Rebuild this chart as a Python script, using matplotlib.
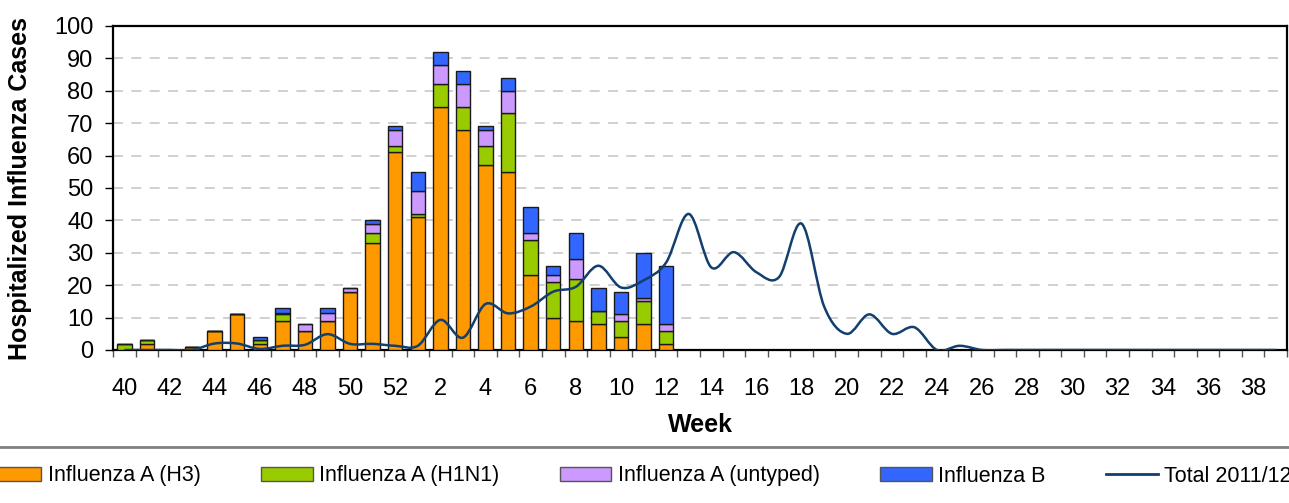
import numpy as np
import matplotlib.pyplot as plt
from matplotlib.path import Path
from matplotlib.patches import PathPatch, Patch
from matplotlib.lines import Line2D

plt.rcParams['font.family'] = ['Liberation Sans', 'DejaVu Sans']

# Weeks 40-52 of 2011, then 1-39 of 2012
weeks = list(range(40, 53)) + list(range(1, 40))

# Bars only for weeks 40 .. 12 (season so far)
h3 = [0, 2, 0, 1, 6, 11, 2, 9, 6, 9, 18, 33, 61, 41, 75, 68, 57, 55, 23, 10, 9, 8, 4, 8, 2]
h1n1 = [2, 1, 0, 0, 0, 0, 1, 2, 0, 0, 0, 3, 2, 1, 7, 7, 6, 18, 11, 11, 13, 4, 5, 7, 4]
untyped = [0, 0, 0, 0, 0, 0, 0, 0.5, 2, 2.5, 1, 3, 5, 7, 6, 7, 5, 7, 2, 2, 6, 0, 2, 1, 2]
flu_b = [0, 0, 0, 0, 0, 0, 1, 1.5, 0, 1.5, 0, 1, 1, 6, 4, 4, 1, 4, 8, 3, 8, 7, 7, 14, 18]

# previous season total, all 52 weeks
total_prev = [0, 0, 0, 0, 2, 2, 0.3, 1.3, 1.6, 4.9, 1.9, 1.9, 1.3,
              1.3, 9.3, 3.8, 14.2, 11.3, 13.4, 18, 19.5, 26, 19.3, 21.5, 27,
              42, 25.5, 30.2, 24, 22.5, 39, 13.4, 5, 11, 5, 7, 0, 1.3,
              0, 0, 0, 0, 0, 0, 0, 0, 0, 0, 0, 0, 0, 0]

colors = ['#FF9900', '#99CC00', '#CC99FF', '#3366FF']
line_color = '#123F6E'


def smooth_path(xs, ys):
    # excel-like smoothed line as cubic bezier segments
    pts = np.column_stack([xs, ys]).astype(float)
    n = len(pts)
    verts = [pts[0]]
    codes = [Path.MOVETO]
    for i in range(n - 1):
        p0 = pts[i - 1] if i > 0 else pts[i]
        p1 = pts[i]
        p2 = pts[i + 1]
        p3 = pts[i + 2] if i + 2 < n else pts[i + 1]
        c1 = p1 + (p2 - p0) / 6
        c2 = p2 - (p3 - p1) / 6
        verts += [c1, c2, p2]
        codes += [Path.CURVE4] * 3
    return Path(verts, codes)


fig = plt.figure(figsize=(12.89, 5.03), dpi=100)
ax = fig.add_axes([113 / 1289, 1 - 350 / 503, 1174 / 1289, 324 / 503])

x = np.arange(len(h3))
bottom = np.zeros(len(h3))
for vals, c in zip([h3, h1n1, untyped, flu_b], colors):
    ax.bar(x, vals, bottom=bottom, width=0.64, color=c, edgecolor='#1a1a1a',
           linewidth=1.0, zorder=3)
    bottom += np.array(vals)

xl = np.arange(len(weeks))
ax.add_patch(PathPatch(smooth_path(xl, total_prev), facecolor='none',
                       edgecolor=line_color, linewidth=1.8, zorder=4))

ax.set_xlim(-0.5, len(weeks) - 0.5)
ax.set_ylim(0, 100)
ax.set_yticks(range(0, 101, 10))
ax.yaxis.grid(True, color='#c8c8c8', linestyle=(0, (6, 5)), linewidth=1.2, zorder=0)

ax.set_xticks(xl[::2])
ax.set_xticklabels([str(w) for w in weeks[::2]])
ax.set_xticks(np.arange(-0.5, len(weeks), 1), minor=True)
ax.tick_params(axis='x', which='major', length=0, pad=20, labelsize=17)
ax.tick_params(axis='x', which='minor', length=5, width=1, color='#555555')
ax.tick_params(axis='y', length=6, width=1, pad=8, labelsize=17)

for s in ax.spines.values():
    s.set_linewidth(1.6)
    s.set_color('black')

ax.set_ylabel('Hospitalized Influenza Cases', fontsize=18, fontweight='bold')
ax.yaxis.set_label_coords(-0.069, 0.5)
ax.set_xlabel('Week', fontsize=18, fontweight='bold')
ax.xaxis.set_label_coords(0.5, -0.195)

# separator above legend
fig.add_artist(Line2D([0, 1], [1 - 447 / 503, 1 - 447 / 503], transform=fig.transFigure,
                      color='#808080', linewidth=2))

handles = [Patch(facecolor=c, edgecolor='#555555') for c in colors]
handles.append(Line2D([0], [0], color=line_color, linewidth=2))
labels = ['Influenza A (H3)', 'Influenza A (H1N1)', 'Influenza A (untyped)',
          'Influenza B', 'Total 2011/12']
fig.legend(handles, labels, loc='center', bbox_to_anchor=(0.497, 1 - 476 / 503),
           ncol=5, frameon=False, fontsize=15.5, handlelength=2.4,
           handleheight=0.6, handletextpad=0.3, columnspacing=2.8)

fig.savefig('out.png', dpi=100)
